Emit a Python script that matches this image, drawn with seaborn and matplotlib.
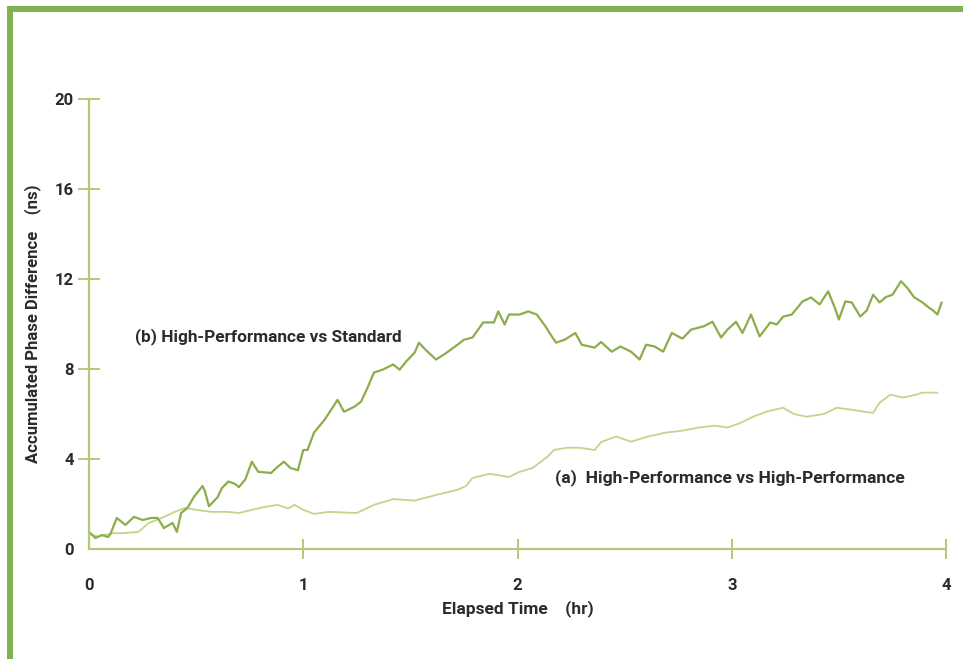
import matplotlib
matplotlib.use("Agg")
import matplotlib.pyplot as plt
import seaborn as sns
import pandas as pd
from matplotlib.patches import Rectangle
from matplotlib import font_manager

# ---- data ----
hours_b = [0.0, 0.03, 0.06, 0.09, 0.10, 0.13, 0.17, 0.21, 0.25, 0.29, 0.32, 0.35, 0.39, 0.41,
           0.43, 0.46, 0.49, 0.53, 0.54, 0.56, 0.60, 0.62, 0.65, 0.68, 0.70, 0.73, 0.76, 0.79,
           0.85, 0.88, 0.91, 0.94, 0.975, 1.0, 1.02, 1.05, 1.10, 1.14, 1.16, 1.19, 1.24, 1.27,
           1.30, 1.33, 1.37, 1.42, 1.45, 1.48, 1.52, 1.54, 1.57, 1.62, 1.67, 1.72, 1.75, 1.79,
           1.84, 1.89, 1.91, 1.94, 1.96, 2.01, 2.05, 2.09, 2.13, 2.16, 2.18, 2.22, 2.27, 2.30,
           2.36, 2.39, 2.44, 2.48, 2.53, 2.57, 2.60, 2.64, 2.68, 2.72, 2.77, 2.81, 2.87, 2.91,
           2.95, 2.98, 3.02, 3.05, 3.09, 3.13, 3.18, 3.21, 3.24, 3.28, 3.30, 3.33, 3.37, 3.41,
           3.45, 3.48, 3.50, 3.53, 3.56, 3.60, 3.63, 3.66, 3.69, 3.72, 3.75, 3.79, 3.82, 3.85,
           3.89, 3.92, 3.94, 3.96, 3.98]
phase_b = [0.76, 0.49, 0.62, 0.53, 0.67, 1.38, 1.07, 1.43, 1.29, 1.38, 1.38, 0.93, 1.16, 0.76,
           1.60, 1.83, 2.32, 2.80, 2.60, 1.90, 2.30, 2.70, 3.00, 2.90, 2.75, 3.10, 3.88, 3.43,
           3.38, 3.65, 3.88, 3.60, 3.50, 4.40, 4.40, 5.17, 5.75, 6.33, 6.63, 6.10, 6.33, 6.55,
           7.17, 7.84, 7.97, 8.20, 7.97, 8.33, 8.73, 9.17, 8.86, 8.42, 8.73, 9.08, 9.30, 9.40,
           10.07, 10.07, 10.56, 9.98, 10.42, 10.42, 10.56, 10.42, 9.90, 9.45, 9.17, 9.30, 9.60, 9.08,
           8.95, 9.20, 8.77, 9.00, 8.77, 8.42, 9.08, 9.00, 8.77, 9.60, 9.35, 9.75, 9.90, 10.10,
           9.40, 9.75, 10.10, 9.60, 10.42, 9.45, 10.07, 9.98, 10.33, 10.42, 10.65, 11.00, 11.18, 10.87,
           11.45, 10.75, 10.20, 11.00, 10.96, 10.33, 10.60, 11.30, 10.96, 11.20, 11.30, 11.90, 11.60, 11.20,
           10.96, 10.73, 10.60, 10.42, 10.96]

hours_a = [0.0, 0.04, 0.11, 0.15, 0.23, 0.28, 0.34, 0.40, 0.45, 0.50, 0.57, 0.65, 0.70, 0.76,
           0.82, 0.88, 0.93, 0.96, 1.0, 1.05, 1.12, 1.25, 1.33, 1.42, 1.52, 1.64, 1.72, 1.76,
           1.79, 1.87, 1.90, 1.96, 2.01, 2.07, 2.14, 2.17, 2.23, 2.29, 2.36, 2.39, 2.46, 2.53,
           2.61, 2.69, 2.77, 2.84, 2.92, 2.98, 3.04, 3.10, 3.16, 3.24, 3.29, 3.35, 3.43, 3.49,
           3.55, 3.62, 3.66, 3.69, 3.74, 3.80, 3.86, 3.89, 3.96]
phase_a = [0.67, 0.55, 0.70, 0.70, 0.76, 1.16, 1.38, 1.65, 1.83, 1.74, 1.65, 1.65, 1.60, 1.74,
           1.87, 1.96, 1.80, 1.96, 1.74, 1.56, 1.65, 1.60, 1.96, 2.22, 2.15, 2.45, 2.63, 2.80,
           3.16, 3.34, 3.30, 3.20, 3.43, 3.60, 4.10, 4.40, 4.50, 4.50, 4.40, 4.75, 5.00, 4.77,
           5.00, 5.17, 5.26, 5.39, 5.48, 5.40, 5.60, 5.88, 6.10, 6.28, 6.00, 5.88, 6.00, 6.28,
           6.20, 6.10, 6.05, 6.50, 6.86, 6.73, 6.86, 6.95, 6.95]

x_ticks = [0, 1, 2, 3, 4]
y_ticks = [0, 4, 8, 12, 16, 20]
label_b = "(b) High-Performance vs Standard"
label_a = "(a)  High-Performance vs High-Performance"

# ---- style ----
sns.set_style("white")
avail = {f.name for f in font_manager.fontManager.ttflist}
main_font = "Roboto" if "Roboto" in avail else "DejaVu Sans"
plt.rcParams["font.family"] = [main_font, "DejaVu Sans"]

axis_col = "#b3c979"
text_col = "#2b2b2b"
col_b = "#8cad4a"
col_a = "#c3d48c"

fig = plt.figure(figsize=(9.63, 6.59), dpi=100)
fig.patch.set_facecolor("white")
ax = fig.add_axes([89 / 963, 1 - 549 / 659, (946 - 89) / 963, (549 - 99) / 659])
ax.set_facecolor("white")

df_a = pd.DataFrame({"hours": hours_a, "phase": phase_a})
df_b = pd.DataFrame({"hours": hours_b, "phase": phase_b})
sns.lineplot(data=df_a, x="hours", y="phase", ax=ax, color=col_a, lw=1.3,
             estimator=None, sort=False)
sns.lineplot(data=df_b, x="hours", y="phase", ax=ax, color=col_b, lw=1.6,
             estimator=None, sort=False)

ax.set_xlim(0, 4)
ax.set_ylim(0, 20)
ax.set_xticks(x_ticks)
ax.set_yticks(y_ticks)
ax.set_xticklabels([str(t) for t in x_ticks])
ax.set_yticklabels([str(t) for t in y_ticks])

for s in ["top", "right"]:
    ax.spines[s].set_visible(False)
for s in ["left", "bottom"]:
    ax.spines[s].set_color(axis_col)
    ax.spines[s].set_linewidth(1.6)

ax.tick_params(axis="y", left=True, direction="inout", length=16, width=1.4, color=axis_col,
               labelsize=12, labelcolor=text_col, pad=3)
ax.tick_params(axis="x", bottom=True, direction="inout", length=14, width=1.4, color=axis_col,
               labelsize=12, labelcolor=text_col, pad=14)
for lab in ax.get_xticklabels() + ax.get_yticklabels():
    lab.set_fontweight("bold")
ax.xaxis.get_major_ticks()[0].tick1line.set_visible(False)
ax.yaxis.get_major_ticks()[0].tick1line.set_visible(False)

ax.set_xlabel("Elapsed Time    (hr)", fontsize=12.5, fontweight="bold", color=text_col,
              labelpad=5)
ax.set_ylabel("Accumulated Phase Difference    (ns)", fontsize=12, fontweight="bold",
              color=text_col, labelpad=10)

ax.text(0.215, 9.44, label_b, fontsize=12.4, fontweight="bold", color=text_col,
        va="center", ha="left")
ax.text(2.175, 3.16, label_a, fontsize=12.6, fontweight="bold", color=text_col,
        va="center", ha="left")

# green frame (left and top)
fig.patches.append(Rectangle((7 / 963, 0), 6 / 963, 1 - 6 / 659, transform=fig.transFigure,
                             facecolor="#80b24f", edgecolor="none", zorder=5))
fig.patches.append(Rectangle((7 / 963, 1 - 12 / 659), 1 - 7 / 963, 6 / 659,
                             transform=fig.transFigure, facecolor="#80b24f",
                             edgecolor="none", zorder=5))

fig.savefig("out.png", dpi=100, facecolor="white")
